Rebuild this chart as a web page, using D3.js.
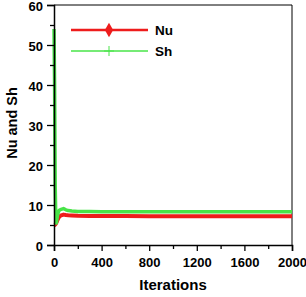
<!DOCTYPE html>
<html><head><meta charset="utf-8">
<script src="https://cdn.jsdelivr.net/npm/d3@7"></script>
<style>body{margin:0;background:#fff}svg text{font-family:"Liberation Sans",Arial,sans-serif;font-weight:bold}</style>
</head><body><svg id="c" width="306" height="297"></svg>
<script>
const iterations = [0,5,10,15,20,30,40,50,60,80,100,120,150,200,300,400,600,800,1000,1200,1400,1600,1800,2000];
const nuValues   = [5.0,5.0,5.1,5.3,5.6,6.3,6.9,7.2,7.4,7.6,7.5,7.45,7.4,7.3,7.25,7.25,7.22,7.2,7.2,7.2,7.2,7.2,7.2,7.2];
const shValues   = [54,40,15,7,5.5,7.5,8.5,8.8,8.9,9.1,8.8,8.6,8.5,8.4,8.35,8.3,8.3,8.3,8.3,8.3,8.3,8.3,8.3,8.3];
const xTicks = [0,400,800,1200,1600,2000];
const yTicks = [0,10,20,30,40,50,60];
const seriesNames = ["Nu","Sh"];

const svg = d3.select("#c");
const x = d3.scaleLinear().domain([0,2000]).range([54,292]);
const y = d3.scaleLinear().domain([0,60]).range([245,5]);
const red = "#ee1c1c", green = "#48e448";

// frame
svg.append("line").attr("x1",54).attr("x2",292).attr("y1",5).attr("y2",5).attr("stroke","#000").attr("stroke-width",1);
svg.append("line").attr("x1",292).attr("x2",292).attr("y1",5).attr("y2",245).attr("stroke","#000").attr("stroke-width",1);

const line = d3.line().x((d,i)=>x(iterations[i])).y(d=>y(d));
svg.append("path").datum(nuValues).attr("d",line).attr("fill","none").attr("stroke",red).attr("stroke-width",4).attr("stroke-linejoin","round");
svg.append("path").datum(shValues).attr("d",line).attr("fill","none").attr("stroke",green).attr("stroke-width",3.5).attr("stroke-linejoin","round");

// axes
svg.append("g").attr("transform","translate(0,245)")
  .call(d3.axisBottom(x).tickValues(xTicks).tickSize(6).tickPadding(7).tickFormat(d3.format("d")));
svg.append("g").attr("transform","translate(0,245)")
  .call(d3.axisBottom(x).tickValues(d3.range(200,2000,400)).tickSize(4).tickFormat(""))
  .select(".domain").remove();
const ya = svg.append("g").attr("transform","translate(54,0)")
  .call(d3.axisLeft(y).tickValues(yTicks).tickSize(7).tickPadding(4));
ya.selectAll(".tick text").attr("dy","0.42em");
svg.append("g").attr("transform","translate(54,0)")
  .call(d3.axisLeft(y).tickValues(d3.range(5,60,10)).tickSize(4).tickFormat(""))
  .select(".domain").remove();
svg.selectAll(".domain").attr("stroke-width",1.5);
svg.selectAll(".tick line").attr("stroke-width",1.3);
svg.selectAll(".tick text").attr("font-size",13).attr("font-weight","bold").attr("fill","#000")
  .style("font-family","'Liberation Sans',Arial,sans-serif");

// axis titles
svg.append("text").attr("x",173).attr("y",290).attr("text-anchor","middle").attr("font-size",15).text("Iterations");
svg.append("text").attr("transform","translate(17,123) rotate(-90)").attr("text-anchor","middle").attr("font-size",14.5).text("Nu and Sh");

// legend
const leg = [{name:seriesNames[0],c:red,yy:30},{name:seriesNames[1],c:green,yy:51}];
leg.forEach(l=>{
  svg.append("line").attr("x1",71).attr("x2",148).attr("y1",l.yy).attr("y2",l.yy).attr("stroke",l.c).attr("stroke-width",l.name==="Nu"?2.5:1.6);
  svg.append("text").attr("x",155).attr("y",l.yy+5).attr("font-size",13.5).text(l.name);
});
svg.append("path").attr("d",d3.symbol().type(d3.symbolDiamond).size(60)()).attr("transform","translate(109,30)").attr("fill",red);
svg.append("path").attr("d","M109,46V56M104,51H114").attr("stroke",green).attr("stroke-width",1);
</script></body></html>
